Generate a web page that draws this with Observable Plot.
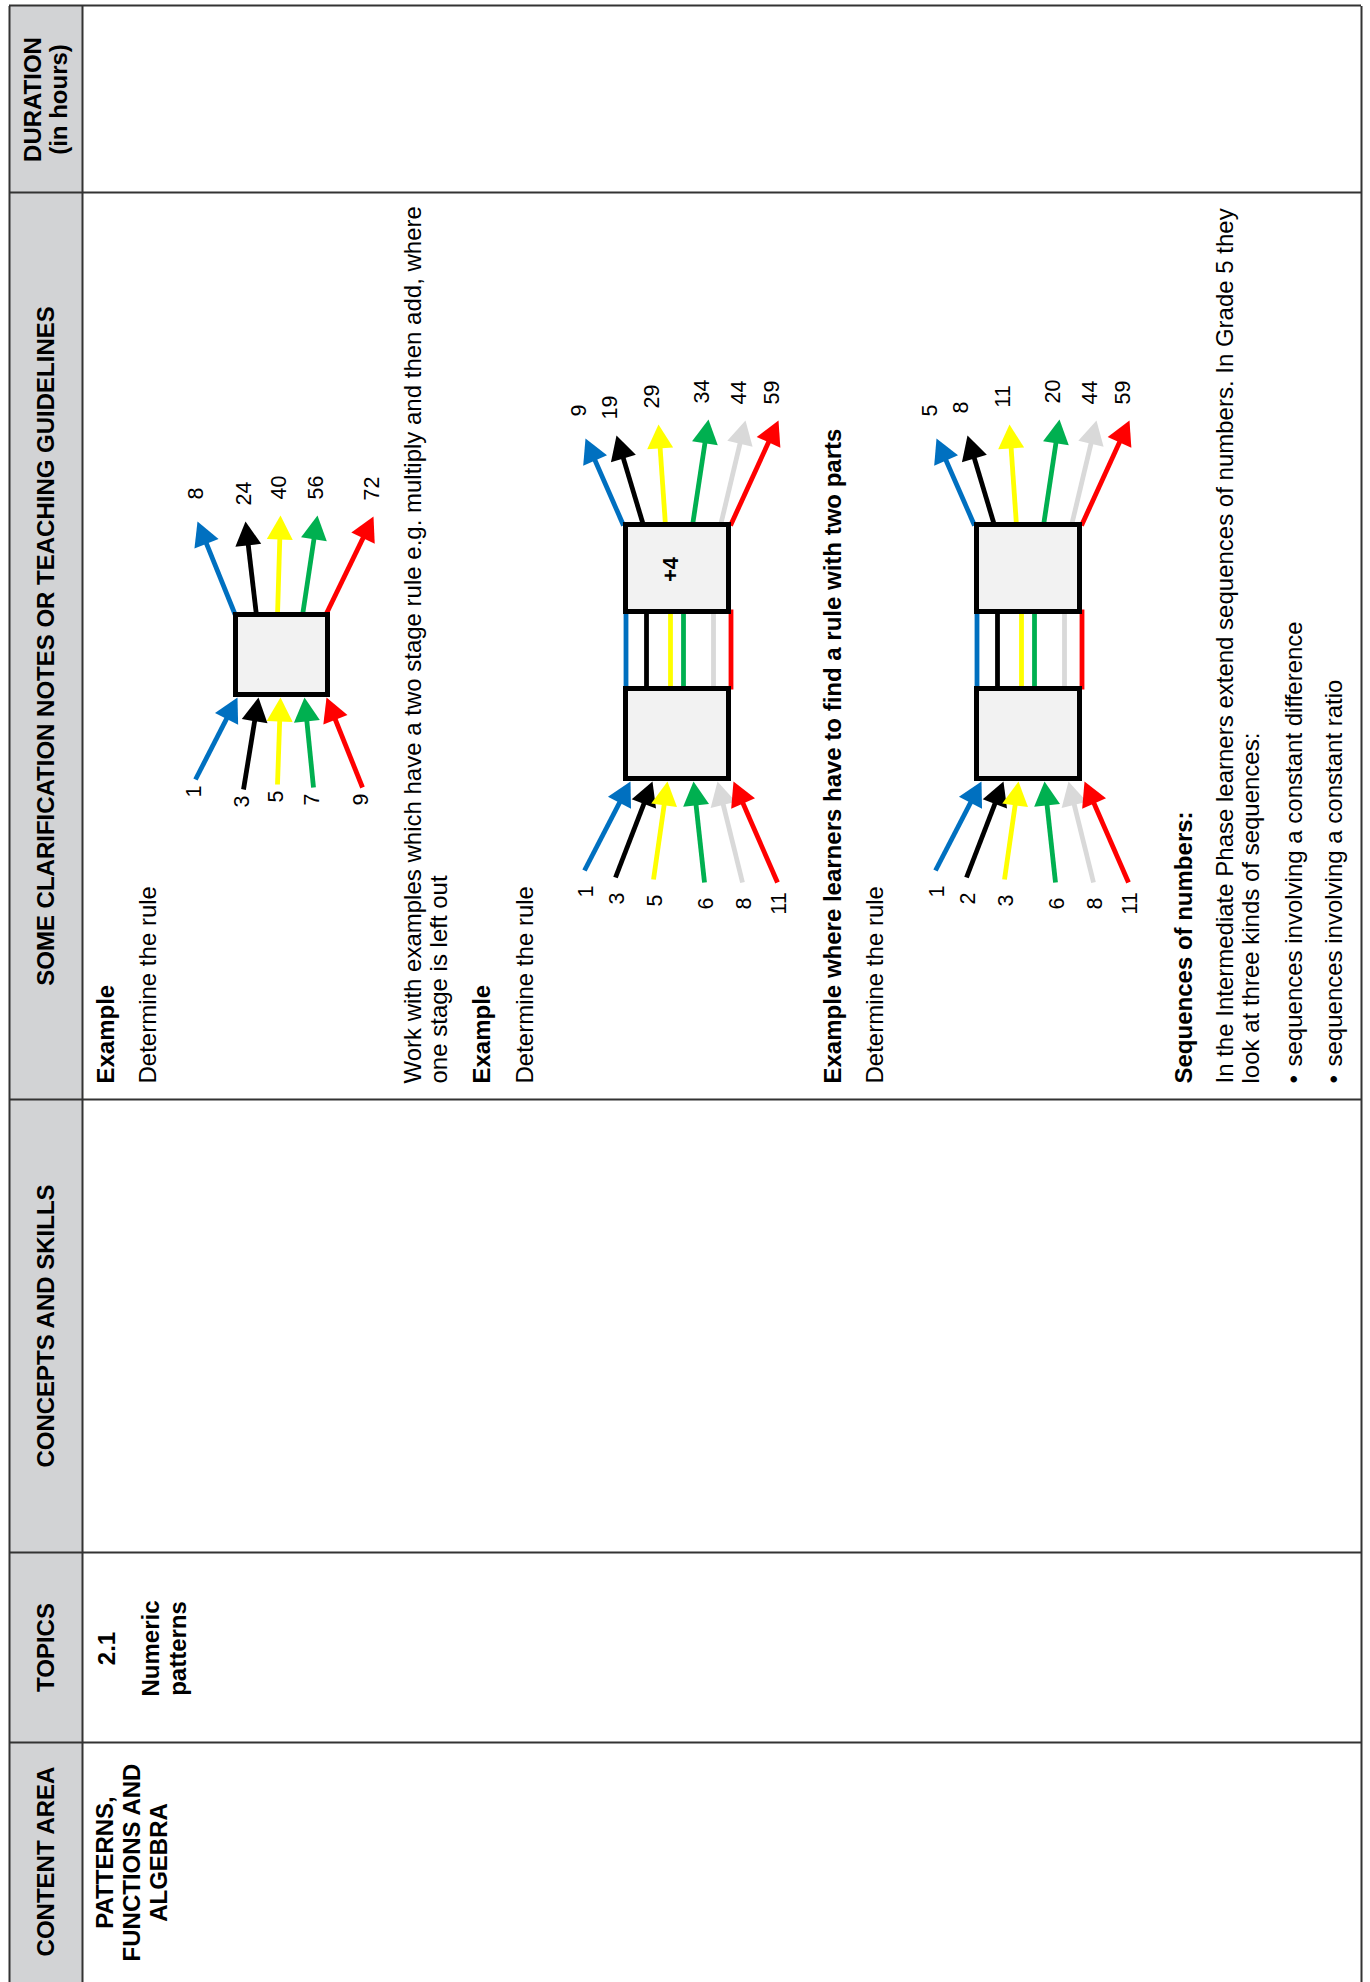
<!DOCTYPE html>
<html><head><meta charset="utf-8">
<script src="https://cdn.jsdelivr.net/npm/d3@7"></script>
<script src="https://cdn.jsdelivr.net/npm/@observablehq/plot@0.6"></script>
<style>
html,body{margin:0;padding:0;background:#fff;}
#page{position:relative;width:1370px;height:1982px;overflow:hidden;background:#fff;}
#page svg{position:absolute;left:0;top:0;transform-origin:0 0;transform:translate(0px,1982px) rotate(-90deg);display:block;max-width:none !important;}
</style></head><body><div id="page"></div>
<script>
// ---------------- DATA ----------------
const headers = ["CONTENT AREA", "TOPICS", "CONCEPTS AND SKILLS", "SOME CLARIFICATION NOTES OR TEACHING GUIDELINES", "DURATION", "(in hours)"];
const contentArea = ["PATTERNS,", "FUNCTIONS AND", "ALGEBRA"];
const topic = ["2.1", "Numeric", "patterns"];
const notes = [
  "Example",
  "Determine the rule",
  "Work with examples which have a two stage rule e.g. multiply and then add, where",
  "one stage is left out",
  "Example",
  "Determine the rule",
  "Example where learners have to find a rule with two parts",
  "Determine the rule",
  "Sequences of numbers:",
  "In the Intermediate Phase learners extend sequences of numbers. In Grade 5 they",
  "look at three kinds of sequences:"
];
const notesBold = [true, false, false, false, true, false, true, false, true, false, false];
const bullets = ["sequences involving a constant difference", "sequences involving a constant ratio"];

const example1In = [1, 3, 5, 7, 9];
const example1Out = [8, 24, 40, 56, 72];
const example2In = [1, 3, 5, 6, 8, 11];
const example2Out = [9, 19, 29, 34, 44, 59];
const example2Rule = "+4";
const example3In = [1, 2, 3, 6, 8, 11];
const example3Out = [5, 8, 11, 20, 44, 59];
const example3Rule = "";

const colours5 = ["#0070C0", "#000000", "#FFFF00", "#00B050", "#FF0000"];
const colours6 = ["#0070C0", "#000000", "#FFFF00", "#00B050", "#D9D9D9", "#FF0000"];

// ---------------- LAYOUT (landscape coordinates, page rotated afterwards) ----------------
const W = 1982, H = 1370;
const FONT = "'Liberation Sans', Arial, Helvetica, sans-serif";
const colEdges = [-10, 239, 429, 882, 1789, 1976];
const tableTop = 9, headerBottom = 82, tableBottom = 1361;
const headerPos = [[120, 53], [334, 53], [655.5, 53], [1335.5, 53], [1882, 40], [1882, 66]];
const contentPos = [[119, 112], [119, 139], [119, 166]];
const topicPos = [[333, 114], [333, 158], [333, 185]];
const notesX = 898;
const notesY = [113, 155, 420, 446, 489, 532, 840, 882, 1191, 1232, 1258];
const bulletDotX = 898, bulletTextX = 915, bulletY = [1301, 1341];

const geom1 = {
  boxes: [[1285, 1370, 233, 330]],
  connectors: [],
  inTails: [[1202, 195], [1192, 243], [1197, 277], [1194, 313], [1194, 362]],
  inTips: [[1284, 237], [1284, 258], [1284, 280], [1284, 304], [1284, 326]],
  outStarts: [[1366, 235], [1366, 256], [1366, 277], [1366, 302], [1366, 325]],
  outTips: [[1460, 197], [1460, 245], [1466, 280], [1466, 317], [1465, 373]],
  inLab: [-12, -1], outLab: [28, -1],
  rulePos: [0, 0]
};
const geom23 = {
  boxes: [[1201, 1296, 0, 108], [1368, 1460, 0, 108]],
  connectors: [[1292, 1372, 2.5], [1292, 1372, 23], [1292, 1372, 47], [1292, 1372, 60], [1292, 1372, 90], [1292, 1372, 107.5]],
  inTails: [[1111, -39], [1104, -8], [1102, 30], [1099, 81], [1099, 119], [1099, 154]],
  inTips: [[1200, 7], [1200, 29], [1200, 44], [1200, 70], [1200, 94], [1200, 110]],
  outStarts: [[1456, 0], [1456, 20], [1456, 42], [1456, 69], [1456, 97], [1456, 107]],
  outTips: [[1543, -38], [1546, -7], [1557, 35], [1562, 85], [1561, 122], [1561, 155]],
  inLab: [-21, 2], outLab: [28, -6],
  rulePos: [1412, 54]
};
const HEAD_LEN = 24, HEAD_HALF = 13, SHAFT_W = 4.8, BOX_W = 5;

function buildDiagram(inputs, outputs, colours, g, oy, rule) {
  const shafts = [], heads = [], labels = [], boxes = [], links = [];
  const arrow = (s, t, c, id) => {
    const dx = t[0] - s[0], dy = t[1] - s[1], L = Math.hypot(dx, dy);
    const ux = dx / L, uy = dy / L, px = -uy, py = ux;
    const bx = t[0] - ux * HEAD_LEN, by = t[1] - uy * HEAD_LEN;
    shafts.push({x1: s[0], y1: s[1], x2: bx + ux * 3, y2: by + uy * 3, c});
    heads.push({id, x: t[0], y: t[1], c});
    heads.push({id, x: bx + px * HEAD_HALF, y: by + py * HEAD_HALF, c});
    heads.push({id, x: bx - px * HEAD_HALF, y: by - py * HEAD_HALF, c});
  };
  inputs.forEach((v, i) => {
    const s = [g.inTails[i][0], g.inTails[i][1] + oy], t = [g.inTips[i][0], g.inTips[i][1] + oy];
    arrow(s, t, colours[i], `in${oy}-${i}`);
    labels.push({x: s[0] + g.inLab[0], y: s[1] + g.inLab[1], text: String(v)});
  });
  outputs.forEach((v, i) => {
    const s = [g.outStarts[i][0], g.outStarts[i][1] + oy], t = [g.outTips[i][0], g.outTips[i][1] + oy];
    arrow(s, t, colours[i], `out${oy}-${i}`);
    labels.push({x: t[0] + g.outLab[0], y: t[1] + g.outLab[1], text: String(v)});
  });
  g.boxes.forEach(b => boxes.push({x1: b[0] + BOX_W / 2, x2: b[1] - BOX_W / 2, y1: b[2] + oy + BOX_W / 2, y2: b[3] + oy - BOX_W / 2}));
  g.connectors.forEach((k, i) => links.push({x1: k[0], x2: k[1], y1: k[2] + oy, y2: k[2] + oy, c: colours[i]}));
  const ruleText = rule ? [{x: g.rulePos[0], y: g.rulePos[1] + oy, text: rule}] : [];
  return {shafts, heads, labels, boxes, links, ruleText};
}

const d1 = buildDiagram(example1In, example1Out, colours5, geom1, 0, "");
const d2 = buildDiagram(example2In, example2Out, colours6, geom23, 623, example2Rule);
const d3 = buildDiagram(example3In, example3Out, colours6, geom23, 974, example3Rule);
const diagrams = [d1, d2, d3];
const all = k => diagrams.flatMap(d => d[k]);

const headerCells = headers.slice(0, 5).map((h, i) => ({x1: colEdges[i], x2: colEdges[i + 1]}));
const headerText = headers.map((t, i) => ({text: t, x: headerPos[i][0], y: headerPos[i][1]}));
const contentText = contentArea.map((t, i) => ({text: t, x: contentPos[i][0], y: contentPos[i][1]}));
const topicText = topic.map((t, i) => ({text: t, x: topicPos[i][0], y: topicPos[i][1]}));
const notesText = notes.map((t, i) => ({text: t, bold: notesBold[i], x: notesX, y: notesY[i]}));
const bulletText = bullets.map((t, i) => ({text: t, x: bulletTextX, y: bulletY[i]}));
const bulletDots = bullets.map((t, i) => ({text: "•", x: bulletDotX, y: bulletY[i]}));

const LINE = "#333333";
const chart = Plot.plot({
  width: W, height: H, margin: 0,
  x: {type: "linear", domain: [0, W], range: [0, W], axis: null},
  y: {type: "linear", domain: [0, H], range: [0, H], axis: null},
  color: {type: "identity"},
  style: {fontFamily: FONT, background: "#ffffff", color: "#000"},
  marks: [
    Plot.rect(headerCells, {x1: "x1", x2: "x2", y1: tableTop, y2: headerBottom, fill: "#D2D3D5"}),
    Plot.ruleX(colEdges.slice(1), {x: d => d, y1: tableTop, y2: tableBottom, stroke: LINE, strokeWidth: 2}),
    Plot.ruleY([tableTop, headerBottom, tableBottom], {y: d => d, x1: colEdges[0], x2: colEdges[5], stroke: LINE, strokeWidth: 2}),
    Plot.text(headerText, {x: "x", y: "y", text: "text", textAnchor: "middle", lineAnchor: "bottom", fontSize: 24, fontWeight: "bold", fontFamily: FONT, fill: "#000"}),
    Plot.text(contentText, {x: "x", y: "y", text: "text", textAnchor: "middle", lineAnchor: "bottom", fontSize: 24, fontWeight: "bold", fontFamily: FONT, fill: "#000"}),
    Plot.text(topicText, {x: "x", y: "y", text: "text", textAnchor: "middle", lineAnchor: "bottom", fontSize: 24, fontWeight: "bold", fontFamily: FONT, fill: "#000"}),
    Plot.text(notesText.filter(d => d.bold), {x: "x", y: "y", text: "text", textAnchor: "start", lineAnchor: "bottom", fontSize: 24, fontWeight: "bold", fontFamily: FONT, fill: "#000"}),
    Plot.text(notesText.filter(d => !d.bold), {x: "x", y: "y", text: "text", textAnchor: "start", lineAnchor: "bottom", fontSize: 24, fontFamily: FONT, fill: "#000"}),
    Plot.text(bulletDots, {x: "x", y: "y", text: "text", textAnchor: "start", lineAnchor: "bottom", fontSize: 24, fontFamily: FONT, fill: "#000"}),
    Plot.text(bulletText, {x: "x", y: "y", text: "text", textAnchor: "start", lineAnchor: "bottom", fontSize: 24, fontFamily: FONT, fill: "#000"}),
    // diagrams
    Plot.link(all("links"), {x1: "x1", y1: "y1", x2: "x2", y2: "y2", stroke: "c", strokeWidth: SHAFT_W, strokeLinecap: "butt"}),
    Plot.link(all("shafts"), {x1: "x1", y1: "y1", x2: "x2", y2: "y2", stroke: "c", strokeWidth: SHAFT_W, strokeLinecap: "butt"}),
    Plot.rect(all("boxes"), {x1: "x1", x2: "x2", y1: "y1", y2: "y2", fill: "#F2F2F2", stroke: "#000", strokeWidth: BOX_W}),
    Plot.line(all("heads"), {x: "x", y: "y", z: "id", fill: "c", stroke: "none", curve: "linear-closed"}),
    Plot.text(all("labels"), {x: "x", y: "y", text: "text", textAnchor: "middle", lineAnchor: "middle", fontSize: 21.5, fontFamily: FONT, fill: "#000"}),
    Plot.text(all("ruleText"), {x: "x", y: "y", text: "text", textAnchor: "middle", lineAnchor: "bottom", fontSize: 22, fontWeight: "bold", fontFamily: FONT, fill: "#000"})
  ]
});
chart.style.maxWidth = "none";
chart.style.width = W + "px";
chart.style.height = H + "px";
document.getElementById("page").appendChild(chart);
</script></body></html>
